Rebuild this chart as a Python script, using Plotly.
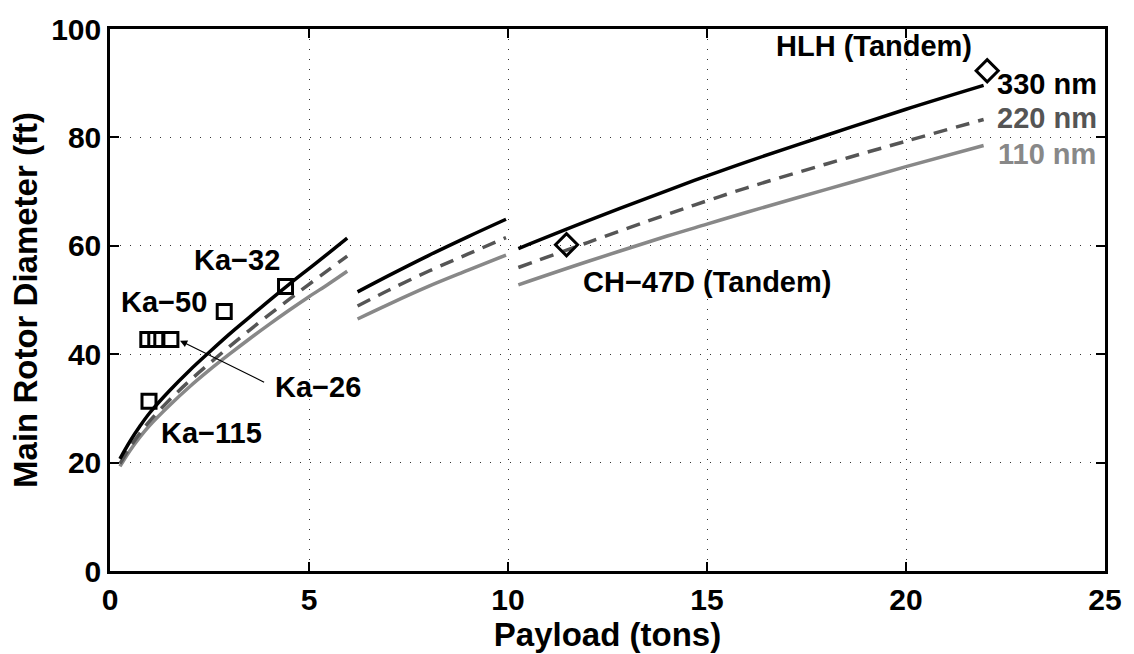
import plotly.graph_objects as go

# ---- data ----
# segment 1 (small payload)
x_seg1 = [0.25, 0.5, 0.75, 1.0, 1.5, 2.0, 2.5, 3.0, 3.5, 4.0, 4.5, 5.0, 5.5, 5.96]
d330_seg1 = [20.7, 23.9, 26.7, 29.2, 33.3, 37.0, 40.4, 43.7, 46.8, 49.9, 52.9, 55.8, 58.7, 61.4]
d220_seg1 = [19.8, 22.8, 25.4, 27.7, 31.6, 35.1, 38.3, 41.4, 44.4, 47.3, 50.1, 52.9, 55.6, 58.1]
d110_seg1 = [19.3, 22.2, 24.7, 26.9, 30.6, 34.0, 37.1, 40.0, 42.8, 45.5, 48.1, 50.6, 53.0, 55.3]
# segment 2 (medium payload)
x_seg2 = [6.22, 7.0, 8.0, 9.0, 9.95]
d330_seg2 = [51.5, 54.5, 58.2, 61.7, 64.9]
d220_seg2 = [48.9, 51.8, 55.3, 58.5, 61.5]
d110_seg2 = [46.5, 49.2, 52.5, 55.5, 58.3]
# segment 3 (tandem, large payload)
x_seg3 = [10.26, 12.0, 14.0, 15.0, 16.0, 18.0, 20.0, 21.95]
d330_seg3 = [59.5, 64.6, 70.2, 72.9, 75.5, 80.4, 85.2, 89.6]
d220_seg3 = [56.0, 60.6, 65.8, 68.3, 70.7, 75.1, 79.3, 83.3]
d110_seg3 = [52.8, 57.1, 61.8, 64.0, 66.2, 70.4, 74.6, 78.5]

# existing helicopters (coaxial: squares)
coax_names = ["Ka-115", "Ka-26", "Ka-26", "Ka-26", "Ka-50", "Ka-32"]
coax_payload = [0.98, 0.95, 1.15, 1.53, 2.87, 4.41]
coax_diam = [31.3, 42.7, 42.7, 42.7, 47.9, 52.5]
# tandem helicopters (diamonds)
tandem_names = ["CH-47D (Tandem)", "HLH (Tandem)"]
tandem_payload = [11.47, 22.04]
tandem_diam = [60.2, 92.3]

range_labels = ["330 nm", "220 nm", "110 nm"]

FONT = "Liberation Sans, Arial, sans-serif"
styles = {
    "330 nm": dict(color="#000000", dash="solid"),
    "220 nm": dict(color="#555555", dash="14px,9px"),
    "110 nm": dict(color="#888888", dash="solid"),
}
segments = [
    (x_seg1, {"330 nm": d330_seg1, "220 nm": d220_seg1, "110 nm": d110_seg1}),
    (x_seg2, {"330 nm": d330_seg2, "220 nm": d220_seg2, "110 nm": d110_seg2}),
    (x_seg3, {"330 nm": d330_seg3, "220 nm": d220_seg3, "110 nm": d110_seg3}),
]

fig = go.Figure()
for xs, ys in segments:
    for name in ["110 nm", "220 nm", "330 nm"]:
        st = styles[name]
        fig.add_trace(go.Scatter(
            x=xs, y=ys[name], mode="lines", line_shape="spline",
            line=dict(color=st["color"], width=3.5, dash=st["dash"]),
            showlegend=False, hoverinfo="skip"))

fig.add_trace(go.Scatter(
    x=coax_payload, y=coax_diam, mode="markers", text=coax_names,
    marker=dict(symbol="square-open", size=14, color="black", line=dict(width=3)),
    showlegend=False))
fig.add_trace(go.Scatter(
    x=tandem_payload, y=tandem_diam, mode="markers", text=tandem_names,
    marker=dict(symbol="diamond-open", size=17, color="black", line=dict(width=3)),
    showlegend=False))

ANN_SIZE = 29
ann_font = dict(family=FONT, size=ANN_SIZE, color="black", weight="bold")
annots = [
    ("Ka\u221232", 3.18, 57.4, "black"),
    ("Ka\u221250", 1.35, 49.6, "black"),
    ("Ka\u2212115", 2.56, 25.4, "black"),
    ("HLH (Tandem)", 19.2, 96.8, "black"),
    ("CH\u221247D (Tandem)", 15.0, 53.3, "black"),
    ("330 nm", 23.55, 89.9, "#000000"),
    ("220 nm", 23.55, 83.6, "#555555"),
    ("110 nm", 23.55, 77.0, "#888888"),
]
for txt, x, y, col in annots:
    fig.add_annotation(x=x, y=y, text=txt, showarrow=False,
                       font=dict(family=FONT, size=ANN_SIZE, color=col, weight="bold"),
                       xanchor="center", yanchor="middle")

# Ka-26 label with arrow
fig.add_annotation(x=5.23, y=34.0, text="Ka\u221226", showarrow=False,
                   font=ann_font, xanchor="center", yanchor="middle")
fig.add_annotation(x=1.76, y=42.5, ax=3.91, ay=34.7, axref="x", ayref="y",
                   text="", showarrow=True, arrowhead=2, arrowsize=1.2,
                   arrowwidth=1.2, arrowcolor="black")

axis_common = dict(
    showline=True, linecolor="black", linewidth=2.5, mirror="ticks",
    ticks="inside", ticklen=9, tickwidth=2, tickcolor="black",
    showgrid=True, gridcolor="#333333", gridwidth=1, griddash="1px,9px",
    zeroline=False,
    tickfont=dict(family=FONT, size=30, color="black", weight="bold"),
)
fig.update_xaxes(range=[0, 25], tick0=0, dtick=5,
                 title=dict(text="Payload (tons)", standoff=2,
                            font=dict(family=FONT, size=33, color="black", weight="bold")),
                 **axis_common)
fig.update_yaxes(range=[0, 100], tick0=0, dtick=20,
                 title=dict(text="Main Rotor Diameter (ft)", standoff=4,
                            font=dict(family=FONT, size=33, color="black", weight="bold")),
                 **axis_common)

fig.update_layout(
    width=1134, height=654,
    margin=dict(l=110, r=26, t=20, b=83),
    paper_bgcolor="white", plot_bgcolor="white",
)
fig.write_html("out.html")
